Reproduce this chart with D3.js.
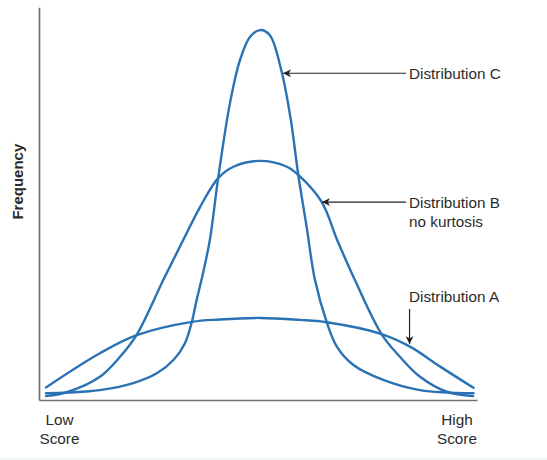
<!DOCTYPE html>
<html>
<head>
<meta charset="utf-8">
<script src="https://cdn.jsdelivr.net/npm/d3@7"></script>
<style>
  html, body { margin: 0; padding: 0; background: #ffffff; }
  svg { display: block; }
  text { font-family: "Liberation Sans", Arial, Helvetica, sans-serif; }
</style>
</head>
<body>
<svg id="chart" width="547" height="460"></svg>
<script>
// ---- data (score 0-100, relative frequency 0-100) ----
const scoresA = [1.6, 13.9, 22.3, 34.9, 41.2, 50.5, 59.6, 65.7, 78.2, 84.7, 91.6, 99.2];
const freqA   = [3.2, 11.9, 16.5, 19.9, 20.5, 20.9, 20.4, 19.8, 16.8, 13.6,  8.5,  3.1];

const scoresB = [1.6, 6.7, 13.9, 18.5, 22.3, 28.4, 32.9, 36.8, 40.9, 44.4, 50.5, 56.6, 59.2, 64.5, 68.1, 72.1, 78.2, 82.4, 87.0, 93.1, 99.1];
const freqB   = [1.0, 2.1,  5.9, 11.0, 16.6, 30.6, 40.7, 49.2, 56.5, 59.4, 60.9, 59.4, 57.3, 50.5, 40.7, 30.6, 16.8, 11.0,  5.9,  2.1,  1.0];

const scoresC = [1.6, 6.7, 13.9, 21.5, 26.9, 30.7, 33.3, 34.9, 36.0, 37.1, 39.0, 40.9, 43.6, 45.9, 48.2, 50.5, 52.7, 55.4, 57.5, 59.2, 61.1, 63.0, 65.7, 68.0, 71.8, 78.6, 87.0, 99.2];
const freqC   = [1.7, 1.9,  2.5,  4.3,  6.8, 10.2, 14.4, 19.9, 25.5, 30.6, 40.7, 56.5, 75.6, 86.6, 92.5, 94.2, 92.9, 83.6, 71.3, 57.3, 44.1, 30.6, 19.8, 13.6,  8.9,  5.1,  2.5,  1.7];

const seriesNames = ["Distribution A", "Distribution B", "Distribution C"];
const annotationLabels = [["Distribution C"], ["Distribution B", "no kurtosis"], ["Distribution A"]];
const annotationTargetScore = [55.5, 64.4, 84.6];
const annotationTargetFreq  = [83.2, 50.4, 14.0];
const annotationDirection   = ["left", "left", "down"];

const xTickLabels = [["Low", "Score"], ["High", "Score"]];
const yAxisTitle = "Frequency";

// ---- layout ----
const svg = d3.select("#chart");
const curveColor = "#2a72b3";
const axisColor = "#6f6f6f";
const textColor = "#2b2b2b";

const x = d3.scaleLinear().domain([0, 100]).range([39, 477]);
const y = d3.scaleLinear().domain([0, 100]).range([400, 7.3]);

// faint strip at the very bottom of the reference
svg.append("rect").attr("x", 0).attr("y", 457).attr("width", 547).attr("height", 3).attr("fill", "#f3faf6");

// axes (no ticks)
const gx = svg.append("g").attr("transform", `translate(0,${y(0)})`)
  .call(d3.axisBottom(x).tickValues([]).tickSizeOuter(0));
const gy = svg.append("g").attr("transform", `translate(${x(0)},0)`)
  .call(d3.axisLeft(y).tickValues([]).tickSizeOuter(0));
[gx, gy].forEach(g => g.select(".domain").attr("stroke", axisColor).attr("stroke-width", 1.7));

// curves
const line = d3.line()
  .x(d => x(d[0]))
  .y(d => y(d[1]))
  .curve(d3.curveCatmullRom.alpha(0.5));

const series = [
  d3.zip(scoresA, freqA),
  d3.zip(scoresB, freqB),
  d3.zip(scoresC, freqC)
];
svg.append("g").selectAll("path").data(series).join("path")
  .attr("d", line)
  .attr("fill", "none")
  .attr("stroke", curveColor)
  .attr("stroke-width", 2.4)
  .attr("stroke-linecap", "round");

// arrow marker
svg.append("defs").append("marker")
  .attr("id", "arrow")
  .attr("viewBox", "0 0 10 10")
  .attr("refX", 10).attr("refY", 5)
  .attr("markerWidth", 10).attr("markerHeight", 8)
  .attr("markerUnits", "userSpaceOnUse")
  .attr("orient", "auto")
  .append("path")
  .attr("d", "M0,0 L10,5 L0,10 L3,5 Z")
  .attr("fill", "#222");

// annotations
const labelX = 409;
const ann = svg.append("g");
annotationLabels.forEach((lines, i) => {
  const tx = x(annotationTargetScore[i]);
  const ty = y(annotationTargetFreq[i]);
  if (annotationDirection[i] === "left") {
    ann.append("line")
      .attr("x1", labelX - 3).attr("y1", ty)
      .attr("x2", tx + 1).attr("y2", ty)
      .attr("stroke", "#222").attr("stroke-width", 1.2)
      .attr("marker-end", "url(#arrow)");
    const t = ann.append("text").attr("x", labelX).attr("y", ty + 5.5)
      .attr("font-size", 15.3).attr("fill", textColor);
    lines.forEach((s, j) => t.append("tspan").attr("x", labelX).attr("dy", j === 0 ? 0 : 19.5).text(s));
  } else {
    ann.append("line")
      .attr("x1", tx).attr("y1", ty - 36)
      .attr("x2", tx).attr("y2", ty - 1)
      .attr("stroke", "#222").attr("stroke-width", 1.2)
      .attr("marker-end", "url(#arrow)");
    ann.append("text").attr("x", labelX).attr("y", ty - 43.5)
      .attr("font-size", 15.3).attr("fill", textColor).text(lines[0]);
  }
});

// x end labels
const endX = [x(0) + 20.5, x(100) - 20];
xTickLabels.forEach((lines, i) => {
  const t = svg.append("text").attr("text-anchor", "middle")
    .attr("font-size", 15.3).attr("fill", textColor)
    .attr("y", y(0) + 25);
  lines.forEach((s, j) => t.append("tspan").attr("x", endX[i]).attr("dy", j === 0 ? 0 : 18.5).text(s));
});

// y title
svg.append("text")
  .attr("transform", `translate(23,${(y(0) + y(100)) / 2 - 22}) rotate(-90)`)
  .attr("text-anchor", "middle")
  .attr("font-size", 15)
  .attr("font-weight", "bold")
  .attr("fill", textColor)
  .text(yAxisTitle);
</script>
</body>
</html>
